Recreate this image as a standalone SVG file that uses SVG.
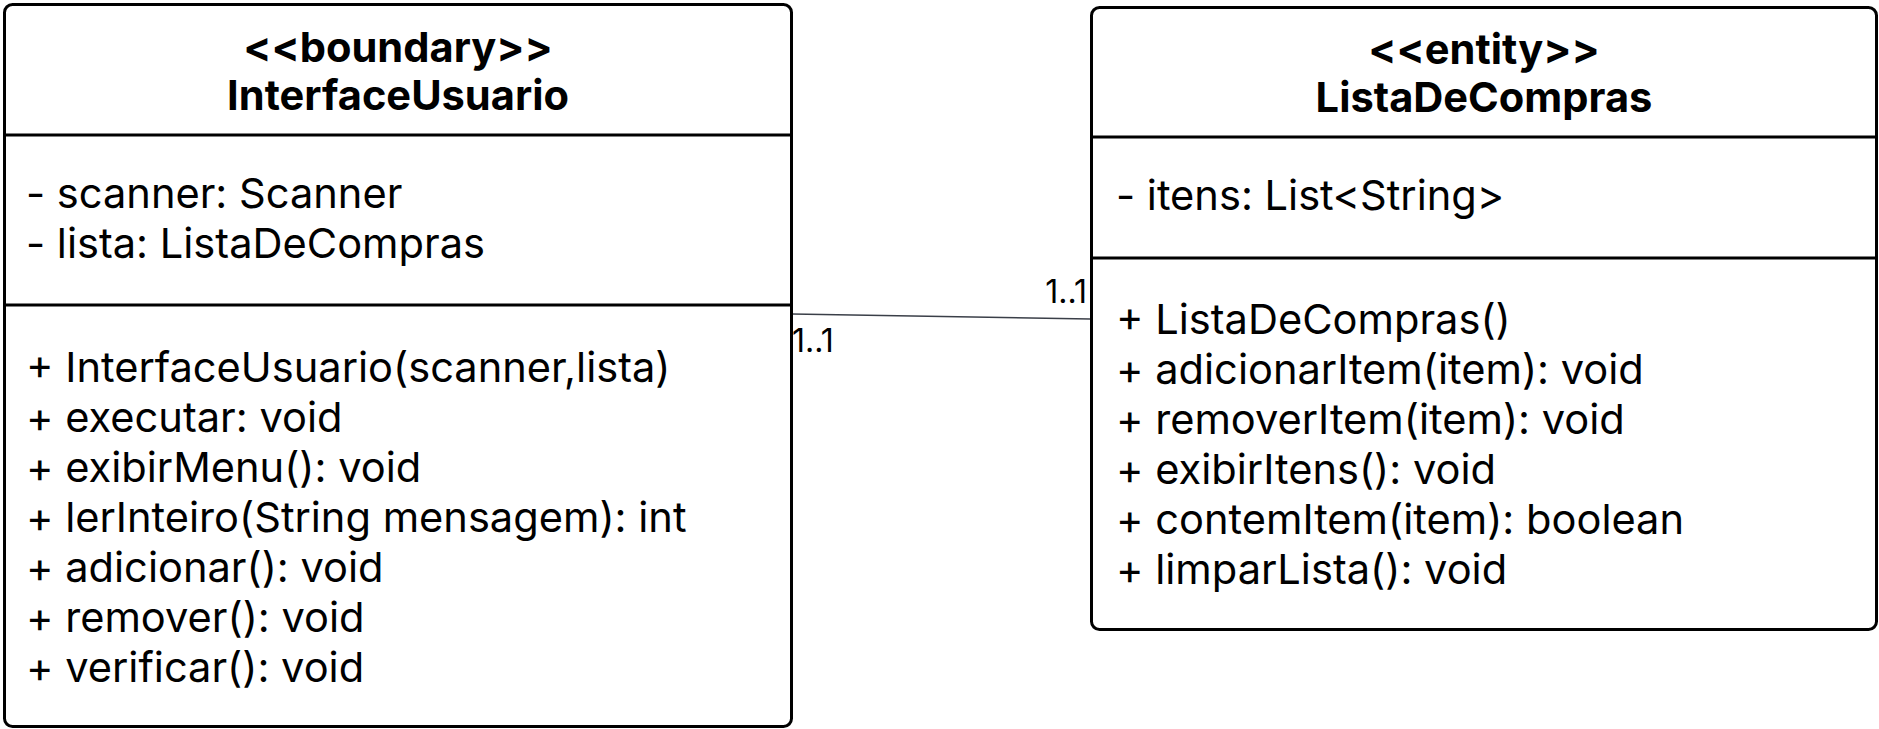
<svg xmlns="http://www.w3.org/2000/svg" width="1879" height="729" viewBox="0 0 1879 729">
<style>
.box{fill:#fff;stroke:#000;stroke-width:3}
.div{stroke:#000;stroke-width:3}
.title{font-family:Inter,"Liberation Sans",sans-serif;font-weight:bold;font-size:41.6px;fill:#000;text-anchor:middle}
.t{font-family:Inter,"Liberation Sans",sans-serif;font-size:41.6px;fill:#000}
.lbl{font-family:Inter,"Liberation Sans",sans-serif;font-size:32px;fill:#000}
.conn{stroke:#3a3f48;stroke-width:1.5;fill:none}
</style>
<rect width="1879" height="729" fill="#fff"/>
<g id="connectors">
<line class="conn" x1="792" y1="314" x2="1090" y2="319"/>
<text class="lbl" x="792" y="352">1..1</text>
<text class="lbl" x="1087" y="303" text-anchor="end">1..1</text>
</g>
<g id="InterfaceUsuario">
<rect class="box" x="4.5" y="4.5" width="787" height="722" rx="8"/>
<line class="div" x1="4.5" y1="135" x2="791.5" y2="135"/>
<line class="div" x1="4.5" y1="305" x2="791.5" y2="305"/>
<text class="title" x="398" y="62">&lt;&lt;boundary&gt;&gt;</text>
<text class="title" x="398" y="110">InterfaceUsuario</text>
<text class="t" x="26" y="208">- scanner: Scanner</text>
<text class="t" x="26" y="258">- lista: ListaDeCompras</text>
<text class="t" x="26" y="382">+ InterfaceUsuario(scanner,lista)</text>
<text class="t" x="26" y="432">+ executar: void</text>
<text class="t" x="26" y="482">+ exibirMenu(): void</text>
<text class="t" x="26" y="532">+ lerInteiro(String mensagem): int</text>
<text class="t" x="26" y="582">+ adicionar(): void</text>
<text class="t" x="26" y="632">+ remover(): void</text>
<text class="t" x="26" y="682">+ verificar(): void</text>
</g>
<g id="ListaDeCompras">
<rect class="box" x="1091.5" y="7.5" width="785" height="622" rx="8"/>
<line class="div" x1="1091.5" y1="137" x2="1876.5" y2="137"/>
<line class="div" x1="1091.5" y1="258" x2="1876.5" y2="258"/>
<text class="title" x="1484" y="64">&lt;&lt;entity&gt;&gt;</text>
<text class="title" x="1484" y="112">ListaDeCompras</text>
<text class="t" x="1116" y="210">- itens: List&lt;String&gt;</text>
<text class="t" x="1116" y="334">+ ListaDeCompras()</text>
<text class="t" x="1116" y="384">+ adicionarItem(item): void</text>
<text class="t" x="1116" y="434">+ removerItem(item): void</text>
<text class="t" x="1116" y="484">+ exibirItens(): void</text>
<text class="t" x="1116" y="534">+ contemItem(item): boolean</text>
<text class="t" x="1116" y="584">+ limparLista(): void</text>
</g>
</svg>
